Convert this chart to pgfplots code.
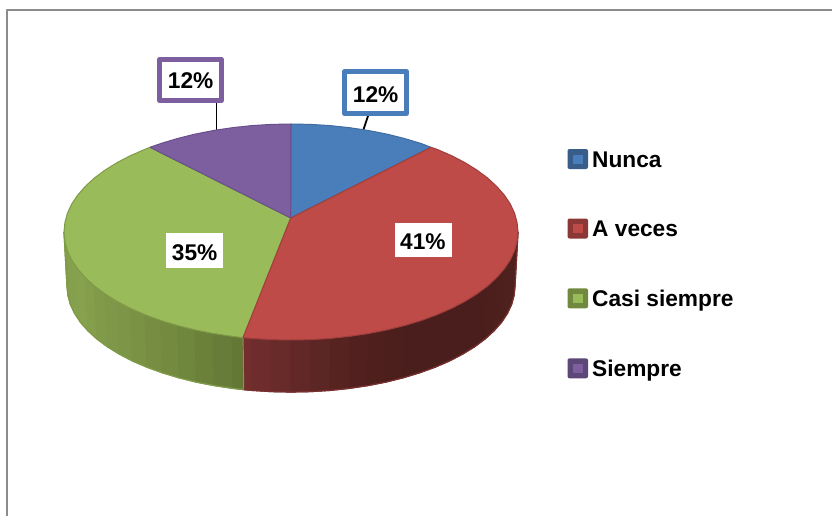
\documentclass[border=0pt]{standalone}
\usepackage{fontspec}
\setmainfont{Liberation Sans}
\usepackage{pgfplots}
\pgfplotsset{compat=1.18}
\definecolor{cblue}{HTML}{4A7EBB}
\definecolor{cred}{HTML}{BE4B48}
\definecolor{cgreen}{HTML}{9ABB59}
\definecolor{cpurple}{HTML}{7D5FA0}
\definecolor{eblue}{HTML}{3F6D9F}
\definecolor{ered}{HTML}{A03E3C}
\definecolor{egreen}{HTML}{7F9B48}
\definecolor{epurple}{HTML}{6A4F8C}
\definecolor{lblue}{RGB}{56,93,138}
\definecolor{lred}{RGB}{140,56,54}
\definecolor{lgreen}{RGB}{113,137,63}
\definecolor{lpurple}{RGB}{92,71,118}
\newcommand{\lab}{\fontsize{22.7}{25}\selectfont\bfseries}
\newcommand{\st}[4]{\addplot[fill={rgb,255:red,#1;green,#2;blue,#3}, draw={rgb,255:red,#1;green,#2;blue,#3}, line width=1.2pt] coordinates {#4} --cycle;}
\begin{document}
\begin{tikzpicture}
\begin{axis}[
  width=832pt, height=516pt, scale only axis,
  xmin=0, xmax=832, ymin=0, ymax=516, y dir=reverse,
  hide axis, no marks, clip=true,
  every axis plot/.append style={line join=round},
]
% page background, fixes the picture's extent
\addplot[fill=white, draw=none] coordinates {(0,0)(832,0)(832,516)(0,516)} --cycle;
% frame
\addplot[color=black!45, line width=2pt] coordinates {(7,516)(7,10.5)(832,10.5)};
% leader lines
\addplot[black, line width=1.8pt] coordinates {(216.5,103)(216.5,131)};
\addplot[black, line width=1.8pt] coordinates {(368,116)(363,131)};
% side, green
\st{127}{154}{72}{(64,232)(64.9,241.4)(67.9,295.2)(67,286)}
\st{130}{157}{75}{(64.9,241.4)(67.4,250.7)(70.4,304.4)(67.9,295.2)}
\st{133}{160}{77}{(67.4,250.7)(71.7,260)(74.6,313.4)(70.4,304.4)}
\st{134}{161}{77}{(71.7,260)(77.7,268.9)(80.5,322.3)(74.6,313.4)}
\st{135}{162}{78}{(77.7,268.9)(85.3,277.6)(88,330.8)(80.5,322.3)}
\st{132}{158}{76}{(85.3,277.6)(94.4,286)(97,339)(88,330.8)}
\st{128}{154}{74}{(94.4,286)(105,293.9)(107.5,346.8)(97,339)}
\st{126}{151}{72}{(105,293.9)(117.1,301.4)(119.4,354.1)(107.5,346.8)}
\st{124}{149}{70}{(117.1,301.4)(130.5,308.4)(132.6,361)(119.4,354.1)}
\st{122}{146}{68}{(130.5,308.4)(145.1,314.7)(147,367.2)(132.6,361)}
\st{119}{142}{66}{(145.1,314.7)(160.8,320.5)(162.5,372.8)(147,367.2)}
\st{115}{138}{63}{(160.8,320.5)(177.5,325.5)(179,377.8)(162.5,372.8)}
\st{111}{134}{61}{(177.5,325.5)(195.1,329.9)(196.3,382.1)(179,377.8)}
\st{107}{129}{58}{(195.1,329.9)(213.4,333.5)(214.4,385.6)(196.3,382.1)}
\st{103}{124}{56}{(213.4,333.5)(232.3,336.3)(233,388.4)(214.4,385.6)}
\st{100}{120}{54}{(232.3,336.3)(243,337.6)(243.6,389.6)(233,388.4)}
% side, red
\st{114}{47}{46}{(243,337.6)(251.6,338.4)(252.1,390.4)(243.6,389.6)}
\st{110}{45}{44}{(251.6,338.4)(271.2,339.6)(271.5,391.6)(252.1,390.4)}
\st{104}{43}{42}{(271.2,339.6)(291,340)(291,392)(271.5,391.6)}
\st{98}{40}{39}{(291,340)(310.8,339.6)(310.5,391.6)(291,392)}
\st{92}{38}{36}{(310.8,339.6)(330.4,338.4)(329.9,390.4)(310.5,391.6)}
\st{87}{35}{33}{(330.4,338.4)(349.7,336.3)(349,388.4)(329.9,390.4)}
\st{82}{33}{31}{(349.7,336.3)(368.6,333.5)(367.6,385.6)(349,388.4)}
\st{78}{31}{29}{(368.6,333.5)(386.9,329.9)(385.7,382.1)(367.6,385.6)}
\st{76}{30}{28}{(386.9,329.9)(404.5,325.5)(403,377.8)(385.7,382.1)}
\st{74}{30}{28}{(404.5,325.5)(421.2,320.5)(436.9,314.7)(451.5,308.4)(464.9,301.4)(477,293.9)(487.6,286)(485,339)(474.5,346.8)(462.6,354.1)(449.4,361)(435,367.2)(419.5,372.8)(403,377.8)}
\st{76}{31}{29}{(487.6,286)(496.7,277.6)(494,330.8)(485,339)}
\st{77}{31}{29}{(496.7,277.6)(504.3,268.9)(501.5,322.3)(494,330.8)}
\st{78}{32}{30}{(504.3,268.9)(510.3,260)(514.6,250.7)(517.1,241.4)(518,232)(515,286)(514.1,295.2)(511.6,304.4)(507.4,313.4)(501.5,322.3)}
% side rims
\addplot[egreen, line width=1.2pt] coordinates {(64,232)(67,286)(67.9,295.2)(70.4,304.4)(74.6,313.4)(80.5,322.3)(88,330.8)(97,339)(107.5,346.8)(119.4,354.1)(132.6,361)(147,367.2)(162.5,372.8)(179,377.8)(196.3,382.1)(214.4,385.6)(233,388.4)(243.6,389.6)(243,337.6)};
\addplot[color=ered!75!black, line width=1.2pt] coordinates {(243.6,389.6)(252.1,390.4)(271.5,391.6)(291,392)(310.5,391.6)(329.9,390.4)(349,388.4)(367.6,385.6)(385.7,382.1)(403,377.8)(419.5,372.8)(435,367.2)(449.4,361)(462.6,354.1)(474.5,346.8)(485,339)(494,330.8)(501.5,322.3)(507.4,313.4)(511.6,304.4)(514.1,295.2)(515,286)(518,232)};
% top slices
\addplot[fill=cblue, draw=eblue, line width=1pt] coordinates {(290.7,218)(291,124)(310.8,124.4)(330.4,125.6)(349.7,127.7)(368.6,130.5)(386.9,134.1)(404.5,138.5)(421.2,143.5)(431,147.3)} --cycle;
\addplot[fill=cgreen, draw=egreen, line width=1pt] coordinates {(290.7,218)(243,337.6)(232.3,336.3)(213.4,333.5)(195.1,329.9)(177.5,325.5)(160.8,320.5)(145.1,314.7)(130.5,308.4)(117.1,301.4)(105,293.9)(94.4,286)(85.3,277.6)(77.7,268.9)(71.7,260)(67.4,250.7)(64.9,241.4)(64,232)(64.9,222.6)(67.4,213.3)(71.7,204)(77.7,195.1)(85.3,186.4)(94.4,178)(105,170.1)(117.1,162.6)(130.5,155.6)(145.1,149.3)(150,147.3)} --cycle;
\addplot[fill=cred, draw=ered, line width=1pt] coordinates {(290.7,218)(431,147.3)(436.9,149.3)(451.5,155.6)(464.9,162.6)(477,170.1)(487.6,178)(496.7,186.4)(504.3,195.1)(510.3,204)(514.6,213.3)(517.1,222.6)(518,232)(517.1,241.4)(514.6,250.7)(510.3,260)(504.3,268.9)(496.7,277.6)(487.6,286)(477,293.9)(464.9,301.4)(451.5,308.4)(436.9,314.7)(421.2,320.5)(404.5,325.5)(386.9,329.9)(368.6,333.5)(349.7,336.3)(330.4,338.4)(310.8,339.6)(291,340)(271.2,339.6)(251.6,338.4)(243,337.6)} --cycle;
\addplot[fill=cpurple, draw=epurple, line width=1pt] coordinates {(290.7,218)(150,147.3)(160.8,143.5)(177.5,138.5)(195.1,134.1)(213.4,130.5)(232.3,127.7)(251.6,125.6)(271.2,124.4)(291,124)} --cycle;
% data label boxes
\addplot[fill=white, draw=cpurple, line width=5pt] coordinates {(159.5,59.5)(221.5,59.5)(221.5,100.5)(159.5,100.5)} --cycle;
\addplot[fill=white, draw=cblue, line width=5pt] coordinates {(344.5,71.5)(406.5,71.5)(406.5,113.5)(344.5,113.5)} --cycle;
\addplot[fill=white, draw=none] coordinates {(395,223)(452,223)(452,257)(395,257)} --cycle;
\addplot[fill=white, draw=none] coordinates {(166,233)(223,233)(223,268)(166,268)} --cycle;
\node[anchor=base west, inner sep=0pt] at (axis cs:167.7,89) {\lab 12\%};
\node[anchor=base west, inner sep=0pt] at (axis cs:352.7,102.3) {\lab 12\%};
\node[anchor=base west, inner sep=0pt] at (axis cs:400,249.3) {\lab 41\%};
\node[anchor=base west, inner sep=0pt] at (axis cs:171.7,260.7) {\lab 35\%};
% legend keys
\addplot[fill=lblue, draw=none, rounded corners=2pt] coordinates {(567.5,149)(588,149)(588,169)(567.5,169)} --cycle;
\addplot[fill=lred, draw=none, rounded corners=2pt] coordinates {(567.5,218.5)(588,218.5)(588,238.5)(567.5,238.5)} --cycle;
\addplot[fill=lgreen, draw=none, rounded corners=2pt] coordinates {(567.5,288.3)(588,288.3)(588,308.3)(567.5,308.3)} --cycle;
\addplot[fill=lpurple, draw=none, rounded corners=2pt] coordinates {(567.5,358.3)(588,358.3)(588,378.3)(567.5,378.3)} --cycle;
\addplot[fill=cblue, draw=none] coordinates {(573,154.5)(582.5,154.5)(582.5,163.5)(573,163.5)} --cycle;
\addplot[fill=cred, draw=none] coordinates {(573,224)(582.5,224)(582.5,233)(573,233)} --cycle;
\addplot[fill=cgreen, draw=none] coordinates {(573,293.8)(582.5,293.8)(582.5,302.8)(573,302.8)} --cycle;
\addplot[fill=cpurple, draw=none] coordinates {(573,363.8)(582.5,363.8)(582.5,372.8)(573,372.8)} --cycle;
\node[anchor=base west, inner sep=0pt] at (axis cs:592,167) {\lab Nunca};
\node[anchor=base west, inner sep=0pt] at (axis cs:592,236) {\lab A veces};
\node[anchor=base west, inner sep=0pt] at (axis cs:592,306) {\lab Casi siempre};
\node[anchor=base west, inner sep=0pt] at (axis cs:592,376) {\lab Siempre};
\end{axis}
\end{tikzpicture}
\end{document}
